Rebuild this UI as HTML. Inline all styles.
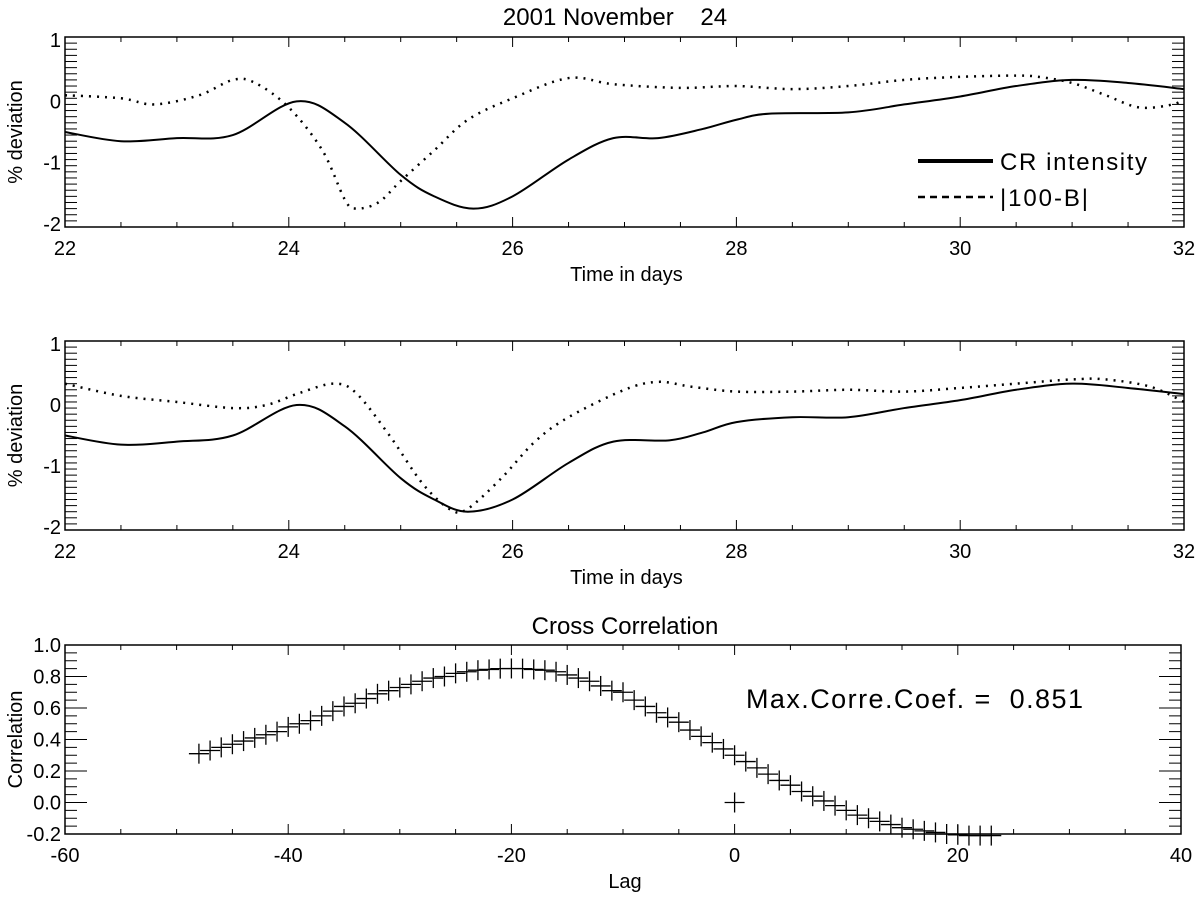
<!DOCTYPE html>
<html><head><meta charset="utf-8"><style>
body{margin:0;background:#fff}
svg{display:block;font-family:"Liberation Sans",sans-serif}
</style></head><body>
<svg id="c" width="1200" height="899"></svg>
<script>
const days1=[22,22.5,23,23.5,24.07,24.5,25,25.3,25.65,26,26.5,26.9,27.3,27.7,28,28.3,29,29.5,30,30.5,31,31.5,32];
const cr1=[-0.5,-0.65,-0.6,-0.55,0,-0.35,-1.2,-1.55,-1.75,-1.55,-0.95,-0.6,-0.6,-0.45,-0.3,-0.2,-0.18,-0.05,0.08,0.25,0.35,0.3,0.2];
const daysB1=[22,22.5,22.8,23.2,23.5,23.7,24,24.3,24.5,24.6,24.8,25,25.3,25.6,26,26.5,26.9,27.5,28,28.5,29,29.5,30,30.5,30.7,31,31.3,31.6,31.9,32];
const b1=[0.1,0.05,-0.05,0.1,0.35,0.3,-0.1,-0.8,-1.6,-1.75,-1.65,-1.3,-0.8,-0.3,0.05,0.38,0.28,0.22,0.25,0.2,0.25,0.35,0.4,0.42,0.4,0.3,0.1,-0.1,-0.05,0.05];
const days2=[22,22.5,23,23.5,24.07,24.5,25,25.3,25.6,26,26.5,26.9,27.4,27.7,28,28.5,29,29.5,30,30.5,31,31.5,32];
const cr2=[-0.5,-0.65,-0.6,-0.5,0,-0.35,-1.2,-1.55,-1.75,-1.55,-0.95,-0.6,-0.58,-0.45,-0.28,-0.2,-0.2,-0.05,0.08,0.25,0.35,0.28,0.18];
const daysB2=[22,22.5,23,23.5,23.8,24.1,24.4,24.6,24.9,25.2,25.45,25.6,25.9,26.2,26.5,27,27.3,27.6,28,28.5,29,29.5,30,30.5,31,31.3,31.7,32];
const b2=[0.35,0.15,0.05,-0.05,0,0.2,0.35,0.2,-0.5,-1.3,-1.72,-1.7,-1.2,-0.6,-0.2,0.25,0.38,0.3,0.22,0.22,0.25,0.22,0.28,0.35,0.42,0.42,0.3,0.05];
const lags=[-48,-47,-46,-45,-44,-43,-42,-41,-40,-39,-38,-37,-36,-35,-34,-33,-32,-31,-30,-29,-28,-27,-26,-25,-24,-23,-22,-21,-20,-19,-18,-17,-16,-15,-14,-13,-12,-11,-10,-9,-8,-7,-6,-5,-4,-3,-2,-1,0,1,2,3,4,5,6,7,8,9,10,11,12,13,14,15,16,17,18,19,20,21,22,23];
const corr=[.31,.33,.35,.37,.39,.41,.43,.45,.48,.50,.52,.55,.58,.61,.63,.66,.69,.71,.73,.75,.77,.79,.80,.82,.83,.84,.845,.85,.851,.85,.845,.84,.83,.81,.79,.77,.74,.71,.70,.65,.61,.57,.54,.51,.46,.42,.38,.34,.30,.26,.22,.18,.14,.11,.07,.04,.01,-.02,-.05,-.08,-.10,-.12,-.14,-.16,-.17,-.18,-.19,-.20,-.205,-.21,-.21,-.21];
const extraLag=[0], extraCorr=[0];
const xTicks1=[22,24,26,28,30,32], yTicks1=[-2,-1,0,1];
const xTicks3=[-60,-40,-20,0,20,40], yTicks3=[-0.2,0,0.2,0.4,0.6,0.8,1.0];

const S=document.getElementById('c'),NS='http://www.w3.org/2000/svg';
function el(t,a,p){const e=document.createElementNS(NS,t);for(const k in a)e.setAttribute(k,a[k]);(p||S).appendChild(e);return e;}
function txt(s,x,y,size,anchor,p,rot){const e=el('text',{x:x,y:y,'font-size':size,'text-anchor':anchor||'middle',fill:'#000'},p);if(rot)e.setAttribute('transform','rotate(-90 '+x+' '+y+')');e.textContent=s;return e;}

function panel(name,L,R,T,B,xmin,xmax,ymin,ymax,xt,xminor,yt,yminor,fmtY,xlabel,ylabel){
  const g=el('g',{});
  
  
  const X=v=>L+(v-xmin)/(xmax-xmin)*(R-L), Y=v=>B-(v-ymin)/(ymax-ymin)*(B-T);
  const ax=el('rect',{x:L,y:T,width:R-L,height:B-T,fill:'none',stroke:'#000','stroke-width':1.5},g);
  
  for(let v=xmin;v<=xmax+1e-9;v+=xminor){const x=X(v);const maj=xt.some(t=>Math.abs(t-v)<1e-6);const l=maj?10:5;
    el('line',{x1:x,y1:B,x2:x,y2:B-l,stroke:'#000'},g);el('line',{x1:x,y1:T,x2:x,y2:T+l,stroke:'#000'},g);}
  for(let v=ymin;v<=ymax+1e-9;v+=yminor){const y=Y(v);const maj=yt.some(t=>Math.abs(t-v)<1e-6);const l=maj?22:12;
    el('line',{x1:L,y1:y,x2:L+l,y2:y,stroke:'#000'},g);el('line',{x1:R,y1:y,x2:R-l,y2:y,stroke:'#000'},g);}
  xt.forEach(t=>{const e=txt(String(t),X(t),B+28,20,'middle',g);});
  yt.forEach(t=>{const e=txt(fmtY(t),L-4,Y(t)+7,20,'end',g);});
  const xl=txt(xlabel,(L+R)/2+2,B+54,20,'middle',g);
  const yl=txt(ylabel,22,(T+B)/2,20,'middle',g,true);
  return {g,X,Y};
}
function smooth(xs,ys,X,Y){const p=xs.map((x,i)=>[X(x),Y(ys[i])]);let d='M'+p[0][0]+','+p[0][1];
  for(let i=0;i<p.length-1;i++){const p0=p[i-1]||p[i],p1=p[i],p2=p[i+1],p3=p[i+2]||p2;
    d+=' C'+(p1[0]+(p2[0]-p0[0])/6)+','+(p1[1]+(p2[1]-p0[1])/6)+' '+(p2[0]-(p3[0]-p1[0])/6)+','+(p2[1]-(p3[1]-p1[1])/6)+' '+p2[0]+','+p2[1];}
  return d;}
const f0=v=>String(v);
const t=txt('2001 November    24',615,25,24);
t.style.whiteSpace='pre';

const P1=panel('panel-top',65,1184,37,227,22,32,-2.05,1.05,xTicks1,0.5,yTicks1,0.1,f0,'Time in days','% deviation');
let s=el('path',{d:smooth(days1,cr1,P1.X,P1.Y),fill:'none',stroke:'#000','stroke-width':2},P1.g);

s=el('path',{d:smooth(daysB1,b1,P1.X,P1.Y),fill:'none',stroke:'#000','stroke-width':2.5,'stroke-dasharray':'2,6'},P1.g);

const lg=el('g',{},P1.g);
el('line',{x1:918,y1:161,x2:993,y2:161,stroke:'#000','stroke-width':4},lg);
el('line',{x1:918,y1:197,x2:993,y2:197,stroke:'#000','stroke-width':2.5,'stroke-dasharray':'7,5'},lg);
const l1=txt('CR intensity',1000,170,24,'start',lg);l1.setAttribute('textLength','147');
const l2=txt('|100-B|',1000,206,24,'start',lg);l2.setAttribute('textLength','88');

const P2=panel('panel-middle',65,1184,341,530,22,32,-2.05,1.05,xTicks1,0.5,yTicks1,0.1,f0,'Time in days','% deviation');
s=el('path',{d:smooth(days2,cr2,P2.X,P2.Y),fill:'none',stroke:'#000','stroke-width':2},P2.g);

s=el('path',{d:smooth(daysB2,b2,P2.X,P2.Y),fill:'none',stroke:'#000','stroke-width':2.5,'stroke-dasharray':'2,6'},P2.g);


const ct=txt('Cross Correlation',625,634,24);
const P3=panel('panel-correlation',65,1181,645,834,-60,40,-0.2,1.0,xTicks3,5,yTicks3,0.05,v=>v.toFixed(1),'Lag','Correlation');
function plus(x,y){const g=el('g',{stroke:'#000','stroke-width':1.3},P3.g);
  
  el('line',{x1:x-10,y1:y,x2:x+10,y2:y},g);el('line',{x1:x,y1:y-10,x2:x,y2:y+10},g);}
lags.forEach((l,i)=>plus(P3.X(l),P3.Y(corr[i])));
extraLag.forEach((l,i)=>plus(P3.X(l),P3.Y(extraCorr[i])));
const mt=txt('Max.Corre.Coef. =  0.851',746,708,27,'start',P3.g);mt.style.whiteSpace='pre';mt.setAttribute('textLength','337');

</script>
</body></html>
